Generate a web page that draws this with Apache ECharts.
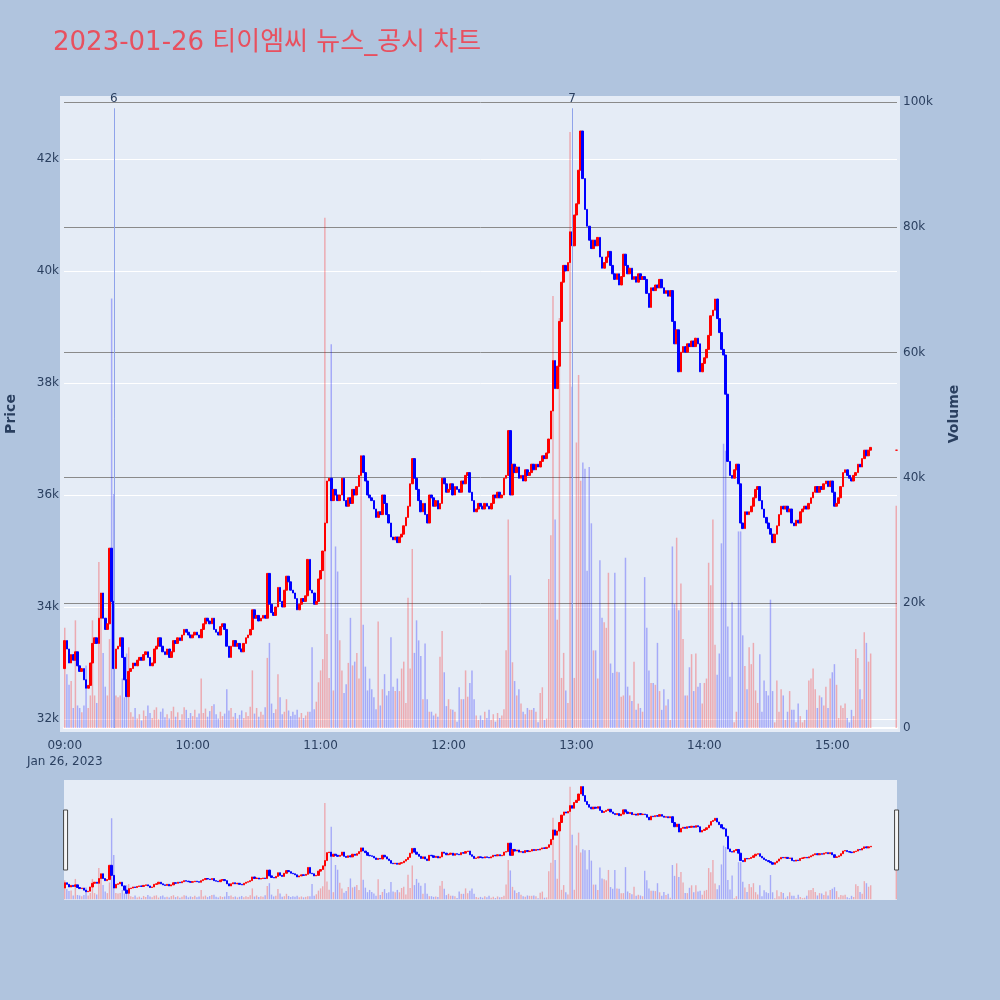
<!DOCTYPE html>
<html>
<head>
<meta charset="utf-8">
<title>2023-01-26 티이엠씨 뉴스_공시 차트</title>
<script src="https://cdn.jsdelivr.net/npm/echarts@6/dist/echarts.min.js"></script>
<style>
  html, body { margin: 0; padding: 0; background: #B0C4DE; }
  #chart { width: 1000px; height: 1000px; }
</style>
</head>
<body>
<div id="chart"></div>
<script>
// 1분봉 종가 (09:00 ~ 15:18), 시가는 직전 종가
var firstOpen = 32900;
var closes = [
  33400, 33250, 33000, 33150, 33050, 33200, 32950, 32850, 32900, 32700, // 09:00
  32550, 32600, 33000, 33350, 33450, 33350, 33800, 34250, 33800, 33600,
  33700, 35050, 34100, 32900, 33250, 33300, 33450, 33100, 32700, 32400,
  32850, 32900, 33000, 32950, 33050, 33100, 33050, 33150, 33200, 33100,
  32950, 33000, 33250, 33300, 33450, 33300, 33200, 33150, 33250, 33100,
  33200, 33400, 33350, 33450, 33400, 33500, 33600, 33550, 33500, 33450,
  33500, 33550, 33500, 33450, 33600, 33700, 33800, 33750, 33700, 33800, // 10:00
  33600, 33550, 33500, 33650, 33700, 33600, 33300, 33100, 33300, 33400,
  33300, 33350, 33250, 33200, 33350, 33450, 33500, 33600, 33950, 33800,
  33850, 33750, 33800, 33850, 33800, 34600, 34050, 33900, 33850, 34000,
  34350, 34100, 34000, 34300, 34550, 34450, 34300, 34250, 34150, 33950,
  34050, 34150, 34100, 34200, 34850, 34300, 34250, 34050, 34100, 34500,
  34650, 35000, 35500, 36250, 36300, 35900, 36100, 36000, 35900, 36000, // 11:00
  36300, 35900, 35800, 35950, 35850, 36100, 36000, 36150, 36350, 36700,
  36400, 36250, 36000, 35950, 35900, 35750, 35600, 35700, 35650, 36000,
  35850, 35650, 35500, 35250, 35200, 35250, 35150, 35250, 35300, 35450,
  35600, 35800, 36200, 36650, 36300, 36100, 35900, 35700, 35850, 35650,
  35500, 36000, 35950, 35800, 35900, 35750, 35850, 36300, 36200, 36050,
  36100, 36200, 36000, 36150, 36100, 36050, 36250, 36200, 36350, 36400, // 12:00
  36050, 35900, 35700, 35750, 35850, 35800, 35750, 35850, 35800, 35750,
  35850, 36000, 35950, 36050, 35950, 36000, 36300, 36350, 37150, 36000,
  36550, 36400, 36500, 36300, 36350, 36250, 36450, 36350, 36400, 36550,
  36450, 36550, 36500, 36600, 36700, 36650, 36750, 37000, 37500, 38400,
  37900, 38300, 39100, 39800, 40100, 40000, 40150, 40700, 40450, 41000,
  41200, 41800, 42500, 41650, 41100, 40800, 40550, 40400, 40550, 40450, // 13:00
  40600, 40250, 40050, 40150, 40250, 40350, 40100, 39950, 39850, 39950,
  39750, 39900, 40300, 40100, 39950, 40050, 39850, 39900, 39800, 39950,
  39850, 39900, 39850, 39600, 39350, 39700, 39650, 39750, 39700, 39850,
  39700, 39600, 39650, 39550, 39650, 39100, 38700, 38950, 38200, 38550,
  38650, 38550, 38700, 38650, 38750, 38650, 38800, 38700, 38200, 38350,
  38450, 38600, 38850, 39200, 39300, 39500, 39150, 38900, 38600, 38500, // 14:00
  37800, 36600, 36350, 36300, 36450, 36550, 36200, 35500, 35400, 35700,
  35650, 35700, 35800, 35950, 36100, 36150, 35900, 35750, 35600, 35500,
  35400, 35300, 35150, 35300, 35450, 35650, 35800, 35750, 35800, 35700,
  35750, 35500, 35450, 35550, 35500, 35700, 35750, 35800, 35750, 35850,
  35950, 36050, 36150, 36050, 36150, 36100, 36200, 36250, 36150, 36250,
  36050, 35800, 35850, 35950, 36150, 36400, 36450, 36350, 36300, 36250, // 15:00
  36350, 36400, 36550, 36500, 36650, 36800, 36700, 36800, 36850
];
// 1분 거래량
var volumes = [
  16000, 8600, 6900, 7500, 3200, 17200, 3600, 3200, 2500, 3600,
  10000, 3200, 5200, 17200, 5200, 4000, 26500, 18200, 12000, 6600,
  5200, 14200, 68600, 37400, 5200, 4900, 5200, 7900, 4900, 11900,
  12900, 2500, 1800, 3200, 1500, 2200, 1200, 2800, 1900, 3600,
  2400, 1600, 2900, 3300, 1400, 2600, 3100, 1700, 2200, 1500,
  2700, 3400, 1800, 2500, 1300, 2200, 3300, 2900, 1600, 2400,
  1900, 2900, 1700, 2300, 7900, 2400, 3100, 1800, 2700, 3500,
  3800, 2200, 1500, 2600, 1900, 2300, 6200, 2800, 3200, 1800,
  2400, 1500, 2100, 2800, 1600, 2500, 1900, 3400, 9200, 2300,
  3200, 1800, 2600, 2100, 3300, 11200, 13600, 3900, 2400, 3000,
  8600, 4900, 2200, 2600, 4600, 2800, 1900, 2600, 2100, 2900,
  1700, 2400, 1600, 2000, 2600, 2600, 12900, 3000, 4200, 7300,
  9200, 11000, 81500, 15000, 8000, 61300, 6000, 29000, 25000, 14000,
  9200, 5600, 7000, 10400, 17600, 10000, 10600, 12000, 7900, 40400,
  16500, 9800, 6000, 7900, 6200, 4900, 3000, 17000, 3600, 6200,
  8600, 5200, 5900, 14500, 6600, 5900, 7900, 5900, 9500, 10600,
  4000, 20800, 9500, 28600, 12000, 17200, 14000, 11500, 4600, 13500,
  4600, 2600, 2600, 2000, 2300, 1800, 11400, 15500, 8900, 3500,
  4600, 3000, 2900, 2600, 1000, 6500, 4600, 4600, 9200, 5000,
  7200, 9200, 4600, 2000, 1300, 2000, 1300, 2600, 1600, 2900,
  1300, 2200, 1000, 2400, 1600, 2000, 3000, 12400, 33300, 24400,
  10500, 7500, 5200, 6200, 3900, 2600, 2200, 3200, 2900, 2900,
  3200, 2600, 900, 5600, 6500, 1300, 1500, 23800, 30800, 69000,
  33300, 17300, 65500, 8000, 12000, 6000, 4000, 95200, 54500, 8000,
  45600, 56400, 39500, 42400, 41400, 25100, 41700, 32700, 12400, 12400,
  7900, 26800, 17600, 16900, 16000, 24800, 10300, 8800, 24800, 9000,
  8900, 5000, 5200, 27200, 6600, 5200, 4300, 10600, 2900, 3900,
  3200, 2600, 24100, 16000, 9200, 7200, 7200, 6900, 13600, 5900,
  2900, 6200, 3600, 4600, 1300, 29000, 19800, 30400, 18800, 23100,
  14200, 5200, 5200, 9700, 11800, 5900, 11900, 6600, 7200, 3900,
  7200, 7900, 26400, 22800, 33300, 13300, 8500, 11900, 29500, 45400,
  44300, 16200, 8200, 20100, 900, 2600, 31400, 31400, 14800, 9900,
  6200, 12900, 10200, 13600, 6000, 4000, 11800, 2600, 7600, 5900,
  5200, 20500, 5900, 900, 7600, 2600, 6200, 5200, 1300, 2600,
  5900, 2900, 2900, 900, 3900, 1900, 900, 1300, 2900, 7600,
  7900, 9500, 6200, 3200, 5200, 4900, 3600, 6600, 3200, 7900,
  8900, 10200, 6900, 1600, 3600, 3200, 3900, 1600, 900, 2900,
  1900, 12600, 11200, 6200, 4600, 15300, 13600, 10600, 11900
];
// 15:30 종가 단일가
var closeTime = '15:30';
var closePrice = 36800;
var closeVolume = 35500;

var priceTicks = [32000, 34000, 36000, 38000, 40000, 42000];
var volumeTicks = [0, 20000, 40000, 60000, 80000, 100000];
// 뉴스/공시 번호
var newsTimes = ['09:23', '12:58'];
var newsLabels = ['6', '7'];

(function () {
  var upColor = '#ff0000';
  var downColor = '#0000ff';
  var upVol = 'rgba(255,0,0,0.28)';
  var downVol = 'rgba(0,0,255,0.28)';
  var axisColor = '#2a3f5f';
  var fontFamily = '"DejaVu Sans", "Noto Sans CJK KR", sans-serif';

  function toTime(s) {
    var p = s.split(':');
    return new Date(2023, 0, 26, +p[0], +p[1]).getTime();
  }
  function pad(n) { return n < 10 ? '0' + n : '' + n; }

  // 캔들, 거래량 데이터 만들기
  var startTime = toTime('09:00');
  var candleData = [];
  var volData = [];
  for (var i = 0; i < closes.length; i++) {
    var o = i === 0 ? firstOpen : closes[i - 1];
    var c = closes[i];
    var t = startTime + i * 60000;
    candleData.push([t, o, c, Math.min(o, c), Math.max(o, c)]);
    volData.push({ value: [t, volumes[i]], itemStyle: { color: c >= o ? upVol : downVol } });
  }
  var tc = toTime(closeTime);
  candleData.push({
    value: [tc, closePrice, closePrice, closePrice, closePrice],
    itemStyle: { color: upColor, borderColor: upColor }
  });
  volData.push({ value: [tc, closeVolume], itemStyle: { color: upVol } });

  var xMin = toTime('09:00');
  var xMax = toTime('15:30');
  var priceMin = 31768, priceMax = 43125;
  var volMin = -640, volMax = 100960;

  var newsLines = newsTimes.map(function (s, k) {
    return [
      { name: newsLabels[k], coord: [toTime(s), 0] },
      { coord: [toTime(s), 99000] }
    ];
  });

  var candleStyle = {
    color: upColor,
    color0: downColor,
    borderColor: upColor,
    borderColor0: downColor,
    borderWidth: 1
  };

  var myChart = echarts.init(document.getElementById('chart'));
  var option = {
    backgroundColor: '#B0C4DE',
    animation: false,
    textStyle: { fontFamily: fontFamily },
    title: {
      text: '2023-01-26 티이엠씨 뉴스_공시 차트',
      left: 48,
      top: 25,
      textStyle: { color: '#E8505F', fontSize: 26, fontWeight: 'normal', fontFamily: fontFamily }
    },
    tooltip: { trigger: 'axis', axisPointer: { type: 'line' } },
    // 플롯 배경 (축 바깥 여백 포함)
    graphic: [{
      type: 'rect',
      left: 60,
      top: 96,
      z: -10,
      silent: true,
      shape: { width: 840, height: 636 },
      style: { fill: '#E5ECF6' }
    }],
    grid: [
      {
        left: 64, right: 103, top: 96, height: 636,
        outerBoundsMode: 'none', containLabel: false,
        show: true, backgroundColor: '#E5ECF6', borderWidth: 0
      },
      // 레인지 슬라이더 영역
      {
        left: 64, right: 103, top: 780, height: 120,
        outerBoundsMode: 'none', containLabel: false,
        show: true, backgroundColor: '#E5ECF6', borderWidth: 0
      }
    ],
    xAxis: [
      {
        type: 'time',
        gridIndex: 0,
        min: xMin,
        max: xMax,
        minInterval: 3600000,
        maxInterval: 3600000,
        axisLine: { onZero: true, onZeroAxisIndex: 1, lineStyle: { color: '#ffffff', width: 2 } },
        axisTick: { show: false },
        splitLine: { show: false },
        axisLabel: {
          color: axisColor,
          fontSize: 12,
          margin: 6,
          lineHeight: 16,
          hideOverlap: false,
          formatter: function (v) {
            var d = new Date(v);
            if (d.getMinutes() !== 0) return '';
            var s = pad(d.getHours()) + ':' + pad(d.getMinutes());
            return v === xMin ? s + '\nJan 26, 2023' : s;
          }
        }
      },
      { type: 'time', gridIndex: 1, min: xMin, max: xMax, show: false }
    ],
    yAxis: [
      {
        type: 'value',
        gridIndex: 0,
        position: 'left',
        min: priceMin,
        max: priceMax,
        name: 'Price',
        nameLocation: 'middle',
        nameRotate: 90,
        nameGap: 46,
        nameTextStyle: { color: axisColor, fontSize: 14, fontWeight: 'bold' },
        axisLine: { show: false },
        axisTick: { show: false, customValues: priceTicks },
        axisLabel: {
          customValues: priceTicks,
          color: axisColor,
          fontSize: 12,
          margin: 5,
          formatter: function (v) { return v / 1000 + 'k'; }
        },
        splitLine: { show: true, lineStyle: { color: '#ffffff', width: 1 } }
      },
      {
        type: 'value',
        gridIndex: 0,
        position: 'right',
        min: volMin,
        max: volMax,
        name: 'Volume',
        nameLocation: 'middle',
        nameRotate: 90,
        nameGap: 50,
        nameTextStyle: { color: axisColor, fontSize: 14, fontWeight: 'bold' },
        axisLine: { show: false },
        axisTick: { show: false, customValues: volumeTicks },
        axisLabel: {
          customValues: volumeTicks,
          color: axisColor,
          fontSize: 12,
          margin: 6,
          formatter: function (v) { return v === 0 ? '0' : v / 1000 + 'k'; }
        },
        splitLine: { show: true, lineStyle: { color: '#8a8a8a', width: 1 } }
      },
      { type: 'value', gridIndex: 1, min: priceMin, max: priceMax, show: false },
      { type: 'value', gridIndex: 1, min: volMin, max: volMax, show: false }
    ],
    // 레인지 슬라이더 손잡이
    dataZoom: [{
      type: 'slider',
      xAxisIndex: 1,
      filterMode: 'none',
      start: 0,
      end: 100,
      left: 64,
      right: 103,
      top: 780,
      height: 120,
      showDetail: false,
      showDataShadow: false,
      brushSelect: false,
      moveHandleSize: 0,
      backgroundColor: 'rgba(0,0,0,0)',
      borderColor: 'rgba(0,0,0,0)',
      fillerColor: 'rgba(0,0,0,0)',
      handleIcon: 'path://M0,0H4V60H0Z',
      handleSize: '50%',
      handleStyle: { color: '#f5f5f5', borderColor: '#444444', borderWidth: 1 }
    }],
    series: [
      {
        name: 'Volume',
        type: 'bar',
        xAxisIndex: 0,
        yAxisIndex: 1,
        barWidth: 1.5,
        z: 1,
        data: volData,
        markLine: {
          silent: true,
          animation: false,
          symbol: ['none', 'none'],
          lineStyle: { color: '#8fa3ea', width: 1, type: 'solid' },
          label: { show: true, position: 'end', formatter: '{b}', color: axisColor, fontSize: 12, distance: 3 },
          data: newsLines
        }
      },
      {
        name: 'Price',
        type: 'candlestick',
        xAxisIndex: 0,
        yAxisIndex: 0,
        barWidth: 2.2,
        z: 3,
        encode: { x: 0, y: [1, 2, 3, 4] },
        itemStyle: candleStyle,
        data: candleData
      },
      // 슬라이더 미니 차트
      {
        type: 'bar',
        xAxisIndex: 1,
        yAxisIndex: 3,
        barWidth: 1.4,
        silent: true,
        data: volData
      },
      {
        type: 'candlestick',
        xAxisIndex: 1,
        yAxisIndex: 2,
        barWidth: 1.8,
        silent: true,
        encode: { x: 0, y: [1, 2, 3, 4] },
        itemStyle: candleStyle,
        data: candleData
      }
    ]
  };
  myChart.setOption(option);
  window.addEventListener('resize', function () {
    myChart.resize();
  });
})();
</script>
</body>
</html>
